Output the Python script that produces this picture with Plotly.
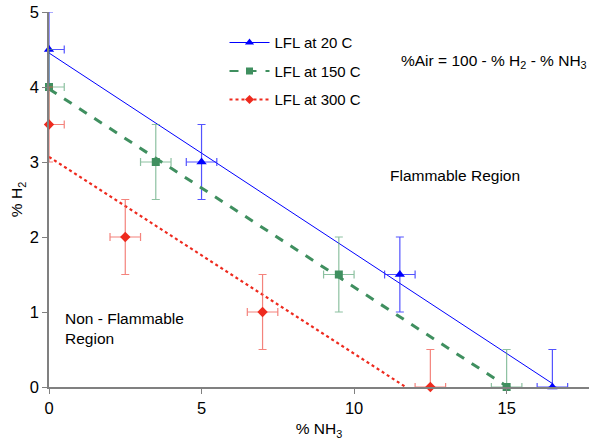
import numpy as np
import plotly.graph_objects as go

# Data
nh3_20 = [0, 5, 11.5, 16.5]
h2_20 = [4.5, 3, 1.5, 0]
nh3_150 = [0, 3.5, 9.5, 15]
h2_150 = [4, 3, 1.5, 0]
nh3_300 = [0, 2.5, 7, 12.5]
h2_300 = [3.5, 2, 1, 0]
err_x = 0.5
err_y = 0.5
x_ticks = [0, 5, 10, 15]
y_ticks = [0, 1, 2, 3, 4, 5]
x_range = [0, 17.7]
y_range = [0, 5]

series = [
    ("LFL at 20 C", nh3_20, h2_20, "#0000ff", "rgba(40,40,255,0.8)", "triangle-up", "solid", 1, 9),
    ("LFL at 150 C", nh3_150, h2_150, "#3f8f5f", "rgba(80,160,110,0.65)", "square", "dash", 3, 8),
    ("LFL at 300 C", nh3_300, h2_300, "#ee2a1e", "rgba(240,90,80,0.75)", "diamond", "dot", 2.2, 8),
]

fig = go.Figure()
for i, (name, xs, ys, col, ecol, sym, dash, lw, ms) in enumerate(series):
    xs = np.array(xs, float)
    ys = np.array(ys, float)
    m, b = np.polyfit(xs, ys, 1)
    xl = np.array([xs.min(), xs.max()])
    fig.add_trace(go.Scatter(x=xl, y=m * xl + b, mode="lines",
                             line=dict(color=col, width=lw, dash=dash),
                             showlegend=False, hoverinfo="skip"))
    # error bars are cut at the axes, as in the original
    xminus = np.minimum(err_x, xs - x_range[0])
    yminus = np.minimum(err_y, ys - y_range[0])
    fig.add_trace(go.Scatter(
        x=xs, y=ys, mode="markers", cliponaxis=False,
        marker=dict(symbol=sym, size=ms, color=col),
        error_x=dict(type="data", symmetric=False, array=[err_x] * len(xs),
                     arrayminus=list(xminus), color=ecol, thickness=1.2, width=4),
        error_y=dict(type="data", symmetric=False, array=[err_y] * len(ys),
                     arrayminus=list(yminus), color=ecol, thickness=1.2, width=4),
        showlegend=False))
    fig.add_trace(go.Scatter(x=[None], y=[None], mode="lines+markers", name=name,
                             legendgroup="g%d" % i,
                             line=dict(color=col, width=min(lw, 2), dash=dash),
                             marker=dict(symbol=sym, size=ms - 1, color=col)))

fig.add_annotation(x=1.0, y=0.867, xref="paper", yref="paper",
                   xanchor="right", yanchor="middle",
                   text="%Air = 100 - % H<sub>2</sub> - % NH<sub>3</sub>",
                   showarrow=False, font=dict(size=15.5, color="black"))
fig.add_annotation(x=13.3, y=2.82, xref="x", yref="y",
                   text="Flammable Region", showarrow=False,
                   font=dict(size=15.5, color="black"))
fig.add_annotation(x=0.45, y=0.78, xref="x", yref="y", xanchor="left", align="left",
                   text="Non - Flammable<br>Region", showarrow=False,
                   font=dict(size=15.5, color="black"))

fig.update_layout(
    width=589, height=444,
    margin=dict(l=49, r=0, t=12, b=57),
    paper_bgcolor="white", plot_bgcolor="white",
    font=dict(family="Liberation Sans, Arial, sans-serif", color="black"),
    legend=dict(x=0.325, y=0.962, xanchor="left", yanchor="top",
                font=dict(size=15), bgcolor="rgba(0,0,0,0)",
                tracegroupgap=6, itemwidth=40),
    xaxis=dict(range=x_range, tickvals=x_ticks, showgrid=False, zeroline=False,
               automargin=False,
               showline=True, linecolor="#808080", linewidth=1.5,
               ticks="outside", ticklen=5, tickcolor="#808080",
               tickfont=dict(size=16.5),
               title=dict(text="% NH<sub>3</sub>", font=dict(size=15.5), standoff=8)),
    yaxis=dict(range=y_range, tickvals=y_ticks, showgrid=False, zeroline=False,
               automargin=False,
               showline=True, linecolor="#808080", linewidth=1.5,
               ticks="outside", ticklen=5, tickcolor="#808080",
               tickfont=dict(size=16.5),
               title=dict(text="% H<sub>2</sub>", font=dict(size=15.5), standoff=3)),
)
fig.write_html("out.html", config={"displayModeBar": False},
               post_script="document.body.style.margin='0px';document.body.style.overflow='hidden';")
